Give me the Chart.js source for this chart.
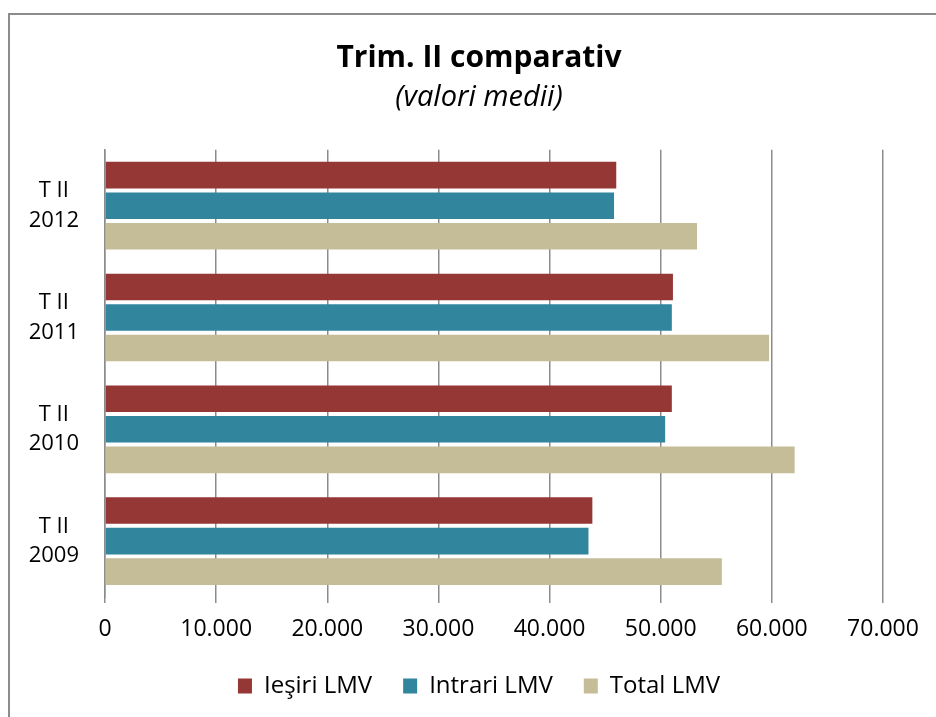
<!DOCTYPE html>
<html>
<head>
<meta charset="utf-8">
<script src="https://cdn.jsdelivr.net/npm/chart.js@4"></script>
<style>
  html, body { margin: 0; padding: 0; background: #fff; }
  #wrap { position: relative; width: 936px; height: 717px; }
  canvas { display: block; }
</style>
</head>
<body>
<div id="wrap"><canvas id="c" width="936" height="717"></canvas></div>
<script>
const categories = [["T II", "2012"], ["T II", "2011"], ["T II", "2010"], ["T II", "2009"]];
const iesiri  = [46000, 51100, 51000, 43850];
const intrari = [45800, 51000, 50400, 43500];
const total   = [53270, 59750, 62050, 55500];
const seriesNames = ["Ieşiri LMV", "Intrari LMV", "Total LMV"];
const xTicks = [0, 10000, 20000, 30000, 40000, 50000, 60000, 70000];

function fmt(v) {
  return String(v).replace(/\B(?=(\d{3})+(?!\d))/g, ".");
}

const framePlugin = {
  id: 'frame',
  afterLayout(chart) {
    // widen the y-axis label clip area so labels left of the axis box are visible
    chart.scales.y.left = 10;
  },
  beforeDraw(chart) {
    const ctx = chart.ctx;
    ctx.save();
    ctx.fillStyle = '#fff';
    ctx.fillRect(0, 0, chart.width, chart.height);
    ctx.strokeStyle = '#8c8c8c';
    ctx.lineWidth = 2;
    ctx.beginPath();
    ctx.moveTo(9, 730);
    ctx.lineTo(9, 14);
    ctx.lineTo(950, 14);
    ctx.stroke();
    ctx.restore();
  }
};

const FONT = "'Open Sans', Lato, sans-serif";

new Chart(document.getElementById('c'), {
  type: 'bar',
  data: {
    labels: categories,
    datasets: [
      { label: seriesNames[0], data: iesiri,  backgroundColor: '#953735' },
      { label: seriesNames[1], data: intrari, backgroundColor: '#31859C' },
      { label: seriesNames[2], data: total,   backgroundColor: '#C4BD97' }
    ]
  },
  options: {
    indexAxis: 'y',
    responsive: false,
    animation: false,
    devicePixelRatio: 1,
    datasets: { bar: { categoryPercentage: 0.82, barPercentage: 0.87 } },
    layout: { padding: { top: 30, left: 75, right: 53, bottom: 9 } },
    plugins: {
      title: {
        display: true,
        text: 'Trim. II comparativ',
        color: '#000',
        font: { family: FONT, size: 30, weight: 'bold' },
        padding: { top: 10, bottom: 4 }
      },
      subtitle: {
        display: true,
        text: '(valori medii)',
        color: '#000',
        font: { family: FONT, size: 29, style: 'italic' },
        padding: { top: 0, bottom: 35 }
      },
      legend: {
        position: 'bottom',
        labels: {
          color: '#000',
          font: { family: FONT, size: 24 },
          boxWidth: 14,
          boxHeight: 15,
          padding: 31
        }
      },
      tooltip: { enabled: false }
    },
    scales: {
      x: {
        min: 0,
        max: 70000,
        afterBuildTicks(scale) { scale.ticks = xTicks.map(v => ({ value: v })); },
        afterFit(scale) { scale.height = 46; },
        ticks: {
          color: '#000',
          font: { family: FONT, size: 23 },
          padding: 13,
          maxRotation: 0,
          callback: v => fmt(v)
        },
        grid: { color: '#8c8c8c', lineWidth: 1.5, tickLength: 6, drawTicks: true },
        border: { display: false }
      },
      y: {
        afterFit(scale) { scale.width = 30; },
        ticks: {
          color: '#000',
          font: { family: FONT, size: 22, lineHeight: 1.35 },
          crossAlign: 'center',
          padding: 26
        },
        grid: { display: false, drawTicks: false },
        border: { display: true, color: '#8c8c8c', width: 1.5 }
      }
    }
  },
  plugins: [framePlugin]
});
</script>
</body>
</html>
